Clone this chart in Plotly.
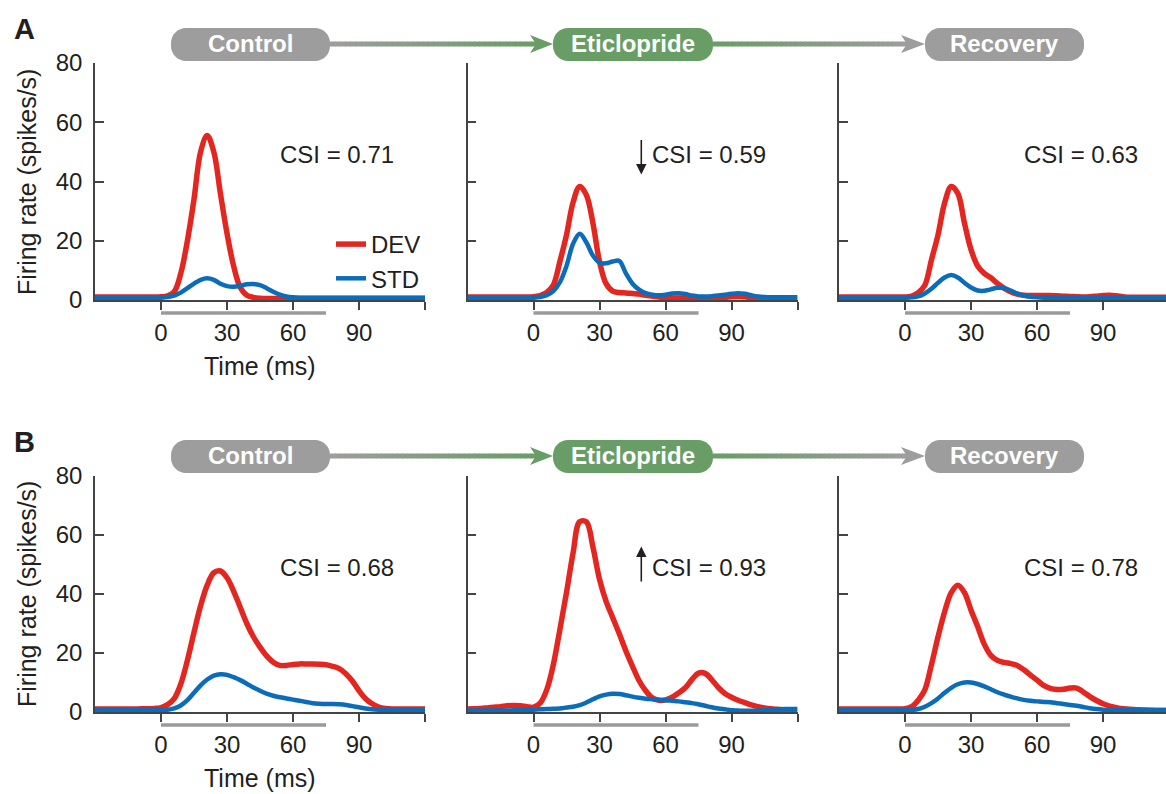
import plotly.graph_objects as go

# ---------------- data ----------------
T = [-30, -27, -24, -21, -18, -15, -12, -9, -6, -3, 0, 3, 6, 9, 12, 15, 18, 21, 24, 27,
     30, 33, 36, 39, 42, 45, 48, 51, 54, 57, 60, 63, 66, 69, 72, 75, 78, 81, 84, 87,
     90, 93, 96, 99, 102, 105, 108, 111, 114, 117, 120]

A1_DEV = [1.0, 1.0, 1.0, 1.0, 1.0, 1.0, 1.0, 1.0, 1.0, 1.0,
          1.1, 1.4, 2.8, 9.0, 20.0, 34.0, 50.0, 55.5, 50.0, 36.0, 22.5, 11.5, 4.3, 1.6, 0.9, 0.6,
          0.5, 0.5, 0.5, 0.5, 0.5, 0.5, 0.5, 0.5, 0.5, 0.5, 0.5, 0.5, 0.5, 0.5, 0.5, 0.5, 0.5,
          0.5, 0.5, 0.5, 0.5, 0.5, 0.5, 0.5, 0.5]
A1_STD = [0.8, 0.8, 0.8, 0.8, 0.8, 0.8, 0.8, 0.8, 0.8, 0.8,
          0.8, 1.0, 1.5, 2.5, 4.0, 5.5, 6.8, 7.3, 6.8, 5.5, 4.7, 4.5, 4.8, 5.3, 5.4, 5.0, 4.0,
          2.8, 1.8, 1.2, 0.9,
          0.8, 0.8, 0.8, 0.8, 0.8, 0.8, 0.8, 0.8, 0.8, 0.8, 0.8, 0.8, 0.8, 0.8, 0.8, 0.8,
          0.8, 0.8, 0.8, 0.8]
A2_DEV = [1.0, 1.0, 1.0, 1.0, 1.0, 1.0, 1.0, 1.0, 1.0, 1.0,
          1.1, 1.5, 2.5, 5.0, 13.0, 22.0, 33.0, 38.3, 35.5, 26.0, 13.0, 5.5, 3.0, 2.5, 2.4,
          2.2, 2.0, 1.6, 1.3, 1.0, 0.8, 0.7, 0.7, 0.7, 0.7, 0.7, 0.7, 0.7, 0.8, 0.9, 1.1,
          1.2, 1.1, 0.8, 0.6, 0.5, 0.5, 0.5, 0.5, 0.5, 0.5]
A2_STD = [0.8, 0.8, 0.8, 0.8, 0.8, 0.8, 0.8, 0.8, 0.8, 0.8,
          0.8, 1.0, 1.6, 3.0, 6.0, 11.5, 19.0, 22.4, 19.5, 15.0, 12.6, 12.4, 13.0, 13.2, 9.0,
          5.5, 3.5, 2.3, 1.8, 1.6, 1.8, 2.2, 2.3, 2.0, 1.5, 1.2, 1.2, 1.3, 1.5, 1.8, 2.1,
          2.3, 2.1, 1.6, 1.2, 1.0, 0.9, 0.9, 0.9, 0.9, 0.9]
A3_DEV = [1.0, 1.0, 1.0, 1.0, 1.0, 1.0, 1.0, 1.0, 1.0, 1.0,
          1.0, 1.3, 2.5, 5.0, 13.5, 22.0, 32.8, 38.3, 36.0, 26.0, 17.0, 11.5, 9.0, 7.5, 5.6,
          4.0, 2.8, 2.0, 1.6, 1.5, 1.5, 1.5, 1.5, 1.4, 1.3, 1.2, 1.1, 1.0, 1.1, 1.3, 1.5,
          1.6, 1.4, 1.1, 0.9, 0.9, 0.9, 0.9, 0.9, 0.9, 0.9]
A3_STD = [0.8, 0.8, 0.8, 0.8, 0.8, 0.8, 0.8, 0.8, 0.8, 0.8,
          0.8, 0.9, 1.2, 2.2, 3.8, 5.8, 7.6, 8.4, 7.6, 5.8, 4.2, 3.2, 3.1, 3.6, 4.1, 4.0, 3.2,
          2.2, 1.5, 1.1, 0.9,
          0.8, 0.8, 0.8, 0.8, 0.8, 0.8, 0.8, 0.8, 0.8, 0.8, 0.8, 0.8, 0.8, 0.8, 0.8, 0.8,
          0.8, 0.8, 0.8, 0.8]
B1_DEV = [1.0, 1.0, 1.0, 1.0, 1.0, 1.0, 1.0, 1.1, 1.1, 1.2,
          1.5, 2.5, 4.5, 9.5, 17.5, 27.0, 36.0, 43.0, 47.2, 47.8, 45.5, 41.0, 35.5, 30.0, 25.5,
          22.0, 19.0, 16.9, 15.8, 15.8, 16.1, 16.3, 16.3, 16.3, 16.2, 16.0, 15.5, 14.7, 13.0,
          10.5, 7.2, 4.5, 2.8, 1.7, 1.2, 1.0, 1.0, 1.0, 1.0, 1.0, 1.0]
B1_STD = [0.8, 0.8, 0.8, 0.8, 0.8, 0.8, 0.8, 0.8, 0.8, 0.8,
          0.8, 0.8, 1.2, 2.2, 4.0, 6.5, 9.0, 11.0, 12.3, 12.8, 12.6, 11.8, 10.8, 9.6, 8.3,
          7.2, 6.2, 5.5, 5.0, 4.6, 4.2, 3.8, 3.4, 3.0, 2.8, 2.7, 2.7, 2.6, 2.4, 2.0, 1.6,
          1.2, 0.9, 0.8, 0.8, 0.8, 0.8, 0.8, 0.8, 0.8, 0.8]
B2_DEV = [1.0, 1.1, 1.2, 1.4, 1.6, 1.8, 2.1, 2.2, 2.1, 1.8,
          1.6, 3.0, 7.5, 16.0, 28.0, 40.5, 54.0, 64.5, 64.5, 56.0, 45.0, 37.5, 32.0, 26.5,
          20.7, 15.5, 10.6, 7.2, 4.8, 4.0, 4.1, 5.0, 6.5, 8.2, 11.0, 13.2, 13.1, 11.0, 8.3,
          6.3, 5.0, 4.0, 3.2, 2.4, 1.8, 1.4, 1.1, 0.9, 0.7, 0.6, 0.5]
B2_STD = [0.5, 0.5, 0.5, 0.5, 0.5, 0.5, 0.5, 0.6, 0.6, 0.7,
          0.8, 0.9, 1.0, 1.1, 1.2, 1.5, 1.8, 2.3, 3.2, 4.3, 5.3, 5.9, 6.2, 6.1, 5.7, 5.2,
          4.8, 4.5, 4.3, 4.1, 4.0, 3.8, 3.6, 3.3, 3.0, 2.6, 2.1, 1.6, 1.2, 0.9, 0.6, 0.5,
          0.4, 0.4, 0.5, 0.6, 0.8, 0.9, 1.0, 1.0, 1.0]
B3_DEV = [1.0, 1.0, 1.0, 1.0, 1.0, 1.0, 1.0, 1.0, 1.0, 1.0,
          1.1, 1.8, 4.0, 7.5, 16.0, 25.5, 34.0, 40.5, 43.0, 40.5, 34.5, 29.0, 23.0, 19.2,
          17.5, 16.8, 16.4, 15.8, 14.3, 12.5, 10.8, 9.0, 8.0, 7.6, 7.7, 8.1, 8.1, 6.8, 5.2,
          3.9, 2.8, 2.0, 1.5, 1.1, 0.9, 0.8, 0.7, 0.6, 0.5, 0.5, 0.5]
B3_STD = [0.7, 0.7, 0.7, 0.7, 0.7, 0.7, 0.7, 0.7, 0.7, 0.7,
          0.7, 0.7, 1.0, 1.8, 3.0, 4.6, 6.5, 8.2, 9.4, 10.0, 10.0, 9.5, 8.7, 7.7, 6.7, 5.9,
          5.2, 4.6, 4.1, 3.8, 3.6, 3.4, 3.3, 3.0, 2.7, 2.4, 2.1, 1.7, 1.3, 1.0, 0.8,
          0.7, 0.7, 0.7, 0.7, 0.7, 0.7, 0.7, 0.7, 0.7, 0.7]

CSI_LABELS = ["CSI = 0.71", "CSI = 0.59", "CSI = 0.63", "CSI = 0.68", "CSI = 0.93", "CSI = 0.78"]
CONDITIONS = ["Control", "Eticlopride", "Recovery"]
ROW_LETTERS = ["A", "B"]
X_TICKS = [0, 30, 60, 90, 120]
X_TICKTEXT = ["0", "30", "60", "90", ""]
Y_TICKS = [0, 20, 40, 60, 80]
STIM = [0, 75]

# ---------------- styling ----------------
W, H = 1166, 794
FONT = "Liberation Sans, Arial, Helvetica, sans-serif"
TXT = "#231F20"
AX = "#444444"
RED = "#E3261F"
BLUE = "#0B6DBA"
GRAY = (157, 157, 157)
GREEN = (105, 157, 102)
FS = 24


def px(x):
    return x / W


def py(y):
    return 1 - y / H


def rgb(c):
    return "rgb(%d,%d,%d)" % c


def lerp(c1, c2, f):
    return tuple(int(round(a + (b - a) * f)) for a, b in zip(c1, c2))


COLS = [(95, 425, [-30, 120]), (467.5, 797.5, [-30, 120]), (839, 1166, [-30, 118.6])]
ROWS = [(63, 300), (476, 712)]
ROW_OFF = [0, 412]

panels = [
    (0, 0, A1_DEV, A1_STD), (0, 1, A2_DEV, A2_STD), (0, 2, A3_DEV, A3_STD),
    (1, 0, B1_DEV, B1_STD), (1, 1, B2_DEV, B2_STD), (1, 2, B3_DEV, B3_STD),
]

fig = go.Figure()
layout = {}
annotations = []
shapes = []

for k, (r, c, dev, std) in enumerate(panels):
    i = k + 1
    xs = "" if i == 1 else str(i)
    xa, ya = "x" + xs, "y" + xs
    fig.add_trace(go.Scatter(x=T, y=dev, mode="lines", name="DEV",
                             showlegend=(i == 1), xaxis=xa, yaxis=ya, hoverinfo="skip",
                             line=dict(color=RED, width=5.5, shape="spline", smoothing=1)))
    fig.add_trace(go.Scatter(x=T, y=std, mode="lines", name="STD",
                             showlegend=(i == 1), xaxis=xa, yaxis=ya, hoverinfo="skip",
                             line=dict(color=BLUE, width=4.5, shape="spline", smoothing=1)))
    c0, c1, xr = COLS[c]
    r0, r1 = ROWS[r]
    layout["xaxis" + xs] = dict(
        domain=[px(c0), px(c1)], range=xr, anchor=ya, showline=True, linecolor=AX,
        linewidth=1.5, ticks="outside", ticklen=8, tickwidth=1.5, tickcolor=AX,
        tickvals=X_TICKS, ticktext=X_TICKTEXT, showgrid=False, zeroline=False,
        tickfont=dict(family=FONT, size=FS, color=TXT), layer="below traces",
        ticklabelstandoff=2, fixedrange=True, automargin=False)
    layout["yaxis" + xs] = dict(
        domain=[py(r1), py(r0)], range=[0, 80], anchor=xa, showline=True, linecolor=AX,
        linewidth=1.5, ticks="inside", ticklen=9, tickwidth=1.5, tickcolor=AX,
        tickvals=Y_TICKS, showticklabels=(c == 0), showgrid=False, zeroline=False,
        tickfont=dict(family=FONT, size=FS, color=TXT), layer="below traces",
        ticklabelstandoff=6, fixedrange=True, automargin=False)
    # stimulus bar
    ybar = 313 + ROW_OFF[r]
    shapes.append(dict(type="line", xref=xa, yref="paper", x0=STIM[0], x1=STIM[1],
                       y0=py(ybar), y1=py(ybar), line=dict(color="#9A9A9A", width=3.5)))
    # CSI label
    annotations.append(dict(xref=xa, yref=ya, x=53, y=49, text=CSI_LABELS[k], showarrow=False,
                            xanchor="left", yanchor="middle",
                            font=dict(family=FONT, size=FS, color=TXT)))

# change arrows next to Eticlopride CSI values
annotations.append(dict(xref="x2", yref="y2", axref="x2", ayref="y2", x=49, y=42.4, ax=49, ay=54.5,
                        text="", showarrow=True, arrowhead=2, arrowsize=1.3, arrowwidth=1.6,
                        arrowcolor=TXT, standoff=0, startstandoff=0))
annotations.append(dict(xref="x5", yref="y5", axref="x5", ayref="y5", x=49, y=56.1, ax=49, ay=43.7,
                        text="", showarrow=True, arrowhead=2, arrowsize=1.3, arrowwidth=1.6,
                        arrowcolor=TXT, standoff=0, startstandoff=0))

# axis titles (left column) and panel letters
for r in range(2):
    off = ROW_OFF[r]
    annotations.append(dict(xref="paper", yref="paper", x=px(259.5), y=py(366 + off),
                            text="Time (ms)", showarrow=False, xanchor="center", yanchor="middle",
                            font=dict(family=FONT, size=25, color=TXT)))
    annotations.append(dict(xref="paper", yref="paper", x=px(27), y=py(182 + off),
                            text="Firing rate (spikes/s)", showarrow=False, textangle=-90,
                            xanchor="center", yanchor="middle",
                            font=dict(family=FONT, size=25, color=TXT)))
    annotations.append(dict(xref="paper", yref="paper", x=px(24.5), y=py(29.5 + off),
                            text="<b>%s</b>" % ROW_LETTERS[r], showarrow=False,
                            xanchor="center", yanchor="middle",
                            font=dict(family=FONT, size=29, color=TXT)))


def pill_path(x0, x1, y0, y1, rad):
    k = 0.5523 * rad
    P = lambda x, y: "%.5f,%.5f" % (px(x), py(y))
    return ("M" + P(x0 + rad, y0) + " L" + P(x1 - rad, y0) +
            " C" + P(x1 - rad + k, y0) + " " + P(x1, y0 + rad - k) + " " + P(x1, y0 + rad) +
            " L" + P(x1, y1 - rad) +
            " C" + P(x1, y1 - rad + k) + " " + P(x1 - rad + k, y1) + " " + P(x1 - rad, y1) +
            " L" + P(x0 + rad, y1) +
            " C" + P(x0 + rad - k, y1) + " " + P(x0, y1 - rad + k) + " " + P(x0, y1 - rad) +
            " L" + P(x0, y0 + rad) +
            " C" + P(x0, y0 + rad - k) + " " + P(x0 + rad - k, y0) + " " + P(x0 + rad, y0) + " Z")


PILLS = [(171, 330, GRAY), (553, 713, GREEN), (925, 1084, GRAY)]
ARROWS = [(330, 536, 530, 553, GRAY, GREEN), (713, 907, 901, 925, GREEN, GRAY)]

for r in range(2):
    off = ROW_OFF[r]
    yc = 44 + off
    for (xa0, xa1, hb, tip, ca, cb) in ARROWS:
        n = 40
        for s in range(n):
            x0 = xa0 + (xa1 - xa0) * s / n
            x1 = xa0 + (xa1 - xa0) * (s + 1) / n + 0.6
            col = lerp(ca, cb, (s + 0.5) / n)
            shapes.append(dict(type="line", xref="paper", yref="paper", x0=px(x0), x1=px(x1),
                               y0=py(yc), y1=py(yc), line=dict(color=rgb(col), width=5)))
        head = ("M%.5f,%.5f L%.5f,%.5f L%.5f,%.5f L%.5f,%.5f Z" %
                (px(tip), py(yc), px(hb), py(yc - 9), px(hb + 6), py(yc), px(hb), py(yc + 9)))
        shapes.append(dict(type="path", xref="paper", yref="paper", path=head,
                           fillcolor=rgb(cb), line=dict(width=0)))
    for (x0, x1, col), name in zip(PILLS, CONDITIONS):
        shapes.append(dict(type="path", xref="paper", yref="paper",
                           path=pill_path(x0, x1, 28 + off, 61 + off, 15),
                           fillcolor=rgb(col), line=dict(width=0)))
        annotations.append(dict(xref="paper", yref="paper", x=px((x0 + x1) / 2), y=py(43.5 + off),
                                text="<b>%s</b>" % name, showarrow=False, xanchor="center",
                                yanchor="middle", font=dict(family=FONT, size=24, color="white")))

fig.update_layout(
    width=W, height=H, margin=dict(l=0, r=0, t=0, b=0, pad=0, autoexpand=False),
    paper_bgcolor="white", plot_bgcolor="white",
    showlegend=True,
    legend=dict(x=px(331), y=py(222), xanchor="left", yanchor="top",
                font=dict(family=FONT, size=FS, color=TXT), bgcolor="rgba(0,0,0,0)",
                itemwidth=30, tracegroupgap=0, borderwidth=0),
    annotations=annotations, shapes=shapes, **layout)

fig.write_html("out.html", config={"displayModeBar": False})
